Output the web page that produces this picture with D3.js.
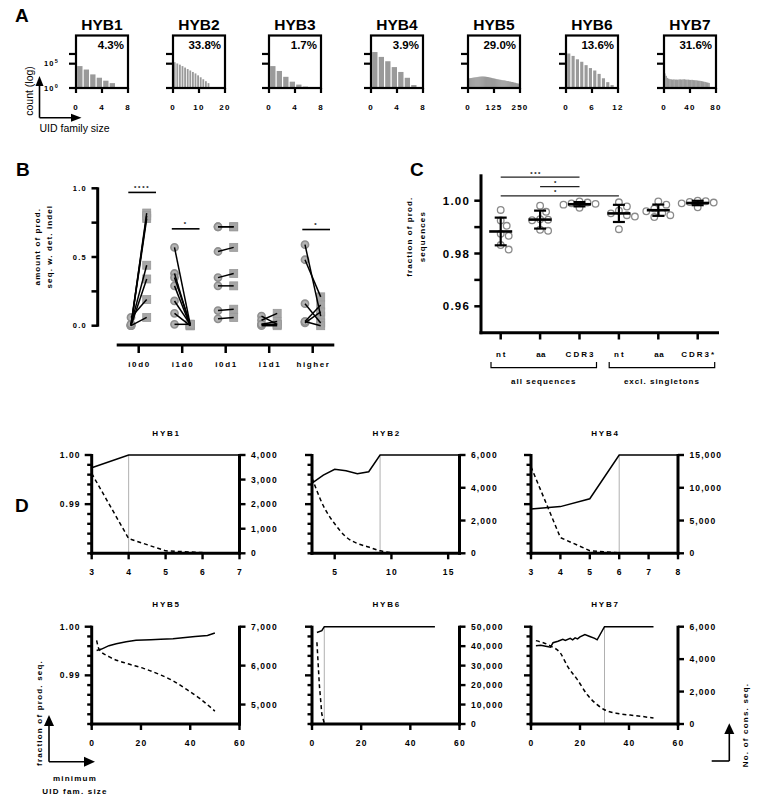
<!DOCTYPE html>
<html><head><meta charset="utf-8">
<script src="https://cdn.jsdelivr.net/npm/d3@7"></script>
<style>body{margin:0;background:#fff} svg{display:block}</style>
</head><body><svg id="chart" width="757" height="800"></svg>
<script>
// ================= DATA =================
// Panel A : UID family size histograms (counts, log axis)
const hybNames = ["HYB1","HYB2","HYB3","HYB4","HYB5","HYB6","HYB7"];
const singletonPct = ["4.3%","33.8%","1.7%","3.9%","29.0%","13.6%","31.6%"];
const famSizeMax = [8,20,8,8,250,12,80];
const famSizeTicks = [[0,4,8],[0,10,20],[0,4,8],[0,4,8],[0,125,250],[0,6,12],[0,40,80]];
const famBinWidth = [1,1,1,1,5,1,2];
const countTicks = [1, 1e5, 1e7];
const countTickLabels = [["10","0"],["10","5"],null];
const famCountsHYB1 = [32000, 6300, 630, 130, 32, 10];
const famCountsHYB2 = [200000, 112000, 63000, 32000, 16000, 7900, 4000, 2000, 1000, 400, 160, 63, 25, 10];
const famCountsHYB3 = [32000, 3200, 200, 20, 5, 2];
const famCountsHYB4 = [25000000, 2500000, 320000, 20000, 2000, 126, 4];
const famCountsHYB5 = [95,105,110,118,130,140,150,160,175,190,205,215,225,232,230,224,215,200,186,172,150,136,120,106,96,86,76,68,62,56,50,47,42,38,37,34,30,27,26,22,21,18,17,15,13,12,10,9,8,7];
const famCountsHYB6 = [12600000, 4000000, 800000, 250000, 50000, 12600, 4000, 800, 100, 16, 4];
const famCountsHYB7 = [1000,320,120,80,65,60,55,58,52,55,50,56,60,54,58,62,55,50,52,48,45,48,42,40,38,35,32,30,26,24,20,18,15,13,11];
const famCounts = [famCountsHYB1,famCountsHYB2,famCountsHYB3,famCountsHYB4,famCountsHYB5,famCountsHYB6,famCountsHYB7];

// Panel B : amount of productive sequences with detected indel (paired)
const indelCats = ["i0d0","i1d0","i0d1","i1d1","higher"];
const indelCircles = [
  [0.00,0.00,0.01,0.00,0.06,0.00,0.01],
  [0.57,0.38,0.35,0.29,0.18,0.09,0.01],
  [0.72,0.54,0.35,0.29,0.11,0.05,0.72],
  [0.07,0.04,0.01,0.00,0.01],
  [0.59,0.48,0.16,0.03,0.02,0.03]
];
const indelSquares = [
  [0.82,0.78,0.44,0.34,0.19,0.06,0.80],
  [0.01,0.00,0.01,0.00,0.01,0.00,0.01],
  [0.72,0.57,0.38,0.29,0.12,0.06,0.72],
  [0.01,0.09,0.03,0.00,0.01],
  [0.07,0.21,0.02,0.15,0.10,0.00]
];
const indelSigCats = ["i0d0","i1d0","higher"];
const indelSigY = [0.97, 0.705, 0.70];
const indelSigLabels = ["****","*","*"];
const indelYTicks = [0,0.25,0.5,0.75,1];
const indelYLabels = [0,0.5,1];

// Panel C : fraction of productive sequences
const prodCats = ["nt","aa","CDR3","nt ","aa ","CDR3*"];
const prodCatLabels = ["nt","aa","CDR3","nt","aa","CDR3*"];
const prodValues = [
  [0.9965,0.9925,0.9905,0.9875,0.9867,0.9832,0.9815],
  [0.9981,0.9958,0.9930,0.9928,0.9926,0.9890,0.9886],
  [0.9997,0.9993,0.9990,0.9988,0.9985,0.9980,0.9973],
  [0.9994,0.9978,0.9962,0.9952,0.9945,0.9940,0.9892],
  [0.9997,0.9985,0.9970,0.9960,0.9953,0.9945,0.9938],
  [1.0000,0.9998,0.9995,0.9993,0.9990,0.9988,0.9975]
];
const prodYTicks = [0.96,0.97,0.98,0.99,1.00];
const prodYLabels = [0.96,0.98,1.00];
const prodGroups = [{label:"all sequences", from:0, to:2},{label:"excl. singletons", from:3, to:5}];
const prodSig = [{a:0,b:2,y:1.0089,label:"***"},{a:1,b:2,y:1.0053,label:"*"},{a:0,b:3,y:1.0018,label:"*"}];

// Panel D : fraction of productive seq. (solid, left) & no. of consensus seq. (dashed, right)
const dNames = ["HYB1","HYB2","HYB4","HYB5","HYB6","HYB7"];
const dXDomains = [[3,7],[3,16],[3,8],[0,60],[0,60],[0,60]];
const dXTicks = [[3,4,5,6,7],[5,10,15],[3,4,5,6,7,8],[0,20,40,60],[0,20,40,60],[0,20,40,60]];
const dRDomains = [[0,4000],[0,6000],[0,15000],[4500,7000],[0,50000],[0,6000]];
const dRTicks = [[0,1000,2000,3000,4000],[0,2000,4000,6000],[0,5000,10000,15000],[5000,6000,7000],[0,10000,20000,30000,40000,50000],[0,2000,4000,6000]];
const dLDomain = [0.98,1.0];
const dLLabels = [0.99,1.00];
const dCutoff = [4,9,6,null,5,30];
const fracX = [
  [3,4,7],
  [3,4,5,6,7,8,9,16],
  [3,4,5,6,8],
  [2,4,7,10,14,18,24,28,33,38,42,47,50],
  [2,4,5,50],
  [2,4,6,8,9,11,13,14,16,17,18,19,20,22,24,26,27,30,50]
];
const fracY = [
  [0.9974,1.0,1.0],
  [0.9943,0.9959,0.9971,0.9968,0.9962,0.9966,1.0,1.0],
  [0.9890,0.9895,0.9911,1.0,1.0],
  [0.9951,0.9954,0.9961,0.9965,0.9969,0.9972,0.9973,0.9974,0.9975,0.9978,0.9980,0.9982,0.9987],
  [0.9988,0.9992,1.0,1.0],
  [0.9961,0.9962,0.9960,0.9958,0.9967,0.9970,0.9974,0.9972,0.9976,0.9973,0.9977,0.9975,0.9979,0.9984,0.9980,0.9976,0.9973,1.0,1.0]
];
const consX = [
  [3,4,5,6],
  [3,4,5,6,7,8,9,10],
  [3,4,5,6],
  [2,3,7,14,21,28,33,38,44,50],
  [2,3,4,5],
  [2,8,12,15,19,23,27,30,36,43,50]
];
const consY = [
  [3250,600,100,30],
  [4600,2900,1800,1000,600,380,150,40],
  [13200,2400,400,50],
  [6650,6420,6230,6060,5930,5760,5610,5410,5150,4830],
  [42000,20000,5000,300],
  [5140,4810,4370,3540,2720,1800,1190,880,630,510,370]
];
const dSmooth = [false,true,false,true,false,true];

// ================= DRAWING =================
const FONT = '"Liberation Sans", Arial, Helvetica, sans-serif';
const svg = d3.select("#chart");
svg.append("rect").attr("width",757).attr("height",800).attr("fill","#fff");

function txt(g, x, y, s, o = {}) {
  return g.append("text").attr("x", x).attr("y", y).text(s)
    .attr("font-family", FONT)
    .attr("font-size", o.size || 8)
    .attr("font-weight", o.weight || "bold")
    .attr("text-anchor", o.anchor || "start")
    .style("letter-spacing", (o.ls || 0) + "px")
    .attr("fill", o.fill || "#000");
}
function line(g, x1, y1, x2, y2, w, c) {
  return g.append("line").attr("x1", x1).attr("y1", y1).attr("x2", x2).attr("y2", y2)
    .attr("stroke", c || "#000").attr("stroke-width", w || 1);
}
function rotText(g, cx, cy, s, o) {
  const t = txt(g, 0, 0, s, Object.assign({anchor: "middle"}, o));
  t.attr("transform", `translate(${cx},${cy}) rotate(-90)`);
  return t;
}

// Panel letters
txt(svg, 15, 22, "A", {size: 19});
txt(svg, 16, 176, "B", {size: 19});
txt(svg, 410, 176, "C", {size: 19});
txt(svg, 15, 512, "D", {size: 19});

// ---------- Panel A ----------
(function () {
  const aLefts = [76, 173, 269, 371, 468, 566, 664];
  const aTop = 35.5, aBot = 88, aW = 52;
  const y = d3.scaleLog().domain([1, Math.pow(10, 10.8)]).range([aBot, aTop]);
  hybNames.forEach((name, i) => {
    const g = svg.append("g");
    const x0 = aLefts[i];
    const x = d3.scaleLinear().domain([0, famSizeMax[i]]).range([x0, x0 + aW]);
    const bw = famBinWidth[i];
    const unit = x(bw) - x(0);
    const gap = bw === 1 ? Math.min(1.2, unit * 0.3) : 0;
    g.selectAll("rect.bar").data(famCounts[i]).join("rect").attr("class", "bar")
      .attr("x", (d, j) => x(j * bw) + gap)
      .attr("width", unit - gap + (gap ? 0 : 0.3))
      .attr("y", d => y(d)).attr("height", d => aBot - y(d))
      .attr("fill", "#9a9a9a");
    g.append("rect").attr("x", x0).attr("y", aTop).attr("width", aW).attr("height", aBot - aTop)
      .attr("fill", "none").attr("stroke", "#000").attr("stroke-width", 2.2);
    countTicks.forEach((t, k) => {
      line(g, x0 - 7, y(t), x0, y(t), 2.2);
      if (i === 0 && countTickLabels[k]) {
        const tt = txt(g, x0 - 17, y(t) + 2.5, countTickLabels[k][0], {size: 7.5, anchor: "end", ls: 1.2});
        tt.append("tspan").attr("dy", -3).attr("font-size", 5.5).text(countTickLabels[k][1]);
      }
    });
    famSizeTicks[i].forEach(t => {
      line(g, x(t), aBot, x(t), aBot + 5, 2.2);
      txt(g, x(t), aBot + 22, t, {size: 8, anchor: "middle", ls: 1.2});
    });
    txt(g, x0 + aW / 2, 30, name, {size: 15.5, anchor: "middle"});
    txt(g, x0 + aW - 4, 48.5, singletonPct[i], {size: 11.5, anchor: "end"});
  });
  // legend arrows
  const g = svg.append("g");
  line(g, 39.5, 117.7, 39.5, 84, 1.6);
  g.append("path").attr("d", "M35.5,86 L39.5,76 L43.5,86 Z").attr("fill", "#000");
  line(g, 39.5, 117.7, 73, 117.7, 1.6);
  g.append("path").attr("d", "M71,113.7 L81.5,117.7 L71,121.7 Z").attr("fill", "#000");
  rotText(g, 32.5, 91, "count (log)", {size: 10.5, weight: "normal"});
  txt(g, 39.5, 131.5, "UID family size", {size: 10.5, weight: "normal"});
})();

// ---------- Panel B ----------
(function () {
  const g = svg.append("g");
  const bx = d3.scalePoint().domain(indelCats).range([138.7, 312.7]);
  const by = d3.scaleLinear().domain([0, 1]).range([325.7, 188.3]);
  line(g, 97.7, by(1) - 1, 97.7, by(0) + 1, 3);
  indelYTicks.forEach(t => line(g, 91.5, by(t), 97.7, by(t), 2.5));
  indelYLabels.forEach(t => txt(g, 87, by(t) + 2.7, d3.format(".1f")(t), {size: 7.5, anchor: "end", ls: 1.3}));
  line(g, 116.7, 345, 334.3, 345, 3);
  indelCats.forEach(c => {
    line(g, bx(c), 345, bx(c), 353, 2.5);
    txt(g, bx(c) + 0.8, 366.5, c, {size: 8, anchor: "middle", ls: 1.6});
  });
  rotText(g, 39.5, 246.7, "amount of prod.", {size: 8, ls: 1.1});
  rotText(g, 52, 246.7, "seq. w. det. indel", {size: 8, ls: 1.1});
  indelCats.forEach((c, i) => {
    const xc = bx(c) - 7.7, xs = bx(c) + 8;
    indelSquares[i].forEach(v => g.append("rect").attr("x", xs - 4).attr("y", by(v) - 4)
      .attr("width", 8).attr("height", 8).attr("fill", "#a6a6a6").attr("stroke", "#999").attr("stroke-width", 0.8));
    indelCircles[i].forEach(v => g.append("circle").attr("cx", xc).attr("cy", by(v)).attr("r", 3.6)
      .attr("fill", "#b4b4b4").attr("stroke", "#8f8f8f").attr("stroke-width", 1.6));
    indelCircles[i].forEach((v, k) => line(g, xc, by(v), xs, by(indelSquares[i][k]), 1.5));
  });
  indelSigCats.forEach((c, k) => {
    const yy = by(indelSigY[k]);
    line(g, bx(c) - 10.4, yy, bx(c) + 17.3, yy, 1.6);
    txt(g, bx(c) + 3.5, yy - 2.5, indelSigLabels[k], {size: 6, anchor: "middle", ls: 1.8});
  });
})();

// ---------- Panel C ----------
(function () {
  const g = svg.append("g");
  const cx = d3.scalePoint().domain(prodCats).range([500.7, 697.7]);
  const cy = d3.scaleLinear().domain([0.95, 1.01]).range([332.7, 174.3]);
  line(g, 481, 174.3, 481, 334.2, 3);
  line(g, 479.5, 332.7, 719, 332.7, 3);
  prodYTicks.forEach(t => line(g, 474.3, cy(t), 481, cy(t), 2.5));
  prodYLabels.forEach(t => txt(g, 470, cy(t) + 4, d3.format(".2f")(t), {size: 11.5, anchor: "end", ls: 1.2}));
  prodCats.forEach((c, i) => {
    line(g, cx(c), 332.7, cx(c), 339.5, 2.5);
    txt(g, cx(c) + 1, 356.5, prodCatLabels[i], {size: 8, anchor: "middle", ls: prodCatLabels[i] === "aa" ? 0.5 : 2});
  });
  prodGroups.forEach(gr => {
    const x1 = cx(prodCats[gr.from]) - 9.7, x2 = cx(prodCats[gr.to]) + 17;
    g.append("path").attr("d", `M${x1},362 V367.7 H${x2} V362`).attr("fill", "none").attr("stroke", "#000").attr("stroke-width", 1.2);
    txt(g, (x1 + x2) / 2, 384, gr.label, {size: 8, anchor: "middle", ls: 1});
  });
  rotText(g, 412, 236.7, "fraction of prod.", {size: 8, ls: 1.1});
  rotText(g, 424.5, 236.7, "sequences", {size: 8, ls: 1.1});
  const r = 3.3;
  prodCats.forEach((c, i) => {
    const vals = prodValues[i];
    const placed = [];
    const order = vals.map((v, k) => k).sort((a, b) => vals[b] - vals[a]);
    order.forEach(k => {
      const yy = cy(vals[k]);
      const cands = [0];
      for (let s = 1; s < 12; s++) cands.push(s * 2, -s * 2);
      let off = 0;
      for (const cnd of cands) {
        if (placed.every(p => Math.hypot(p.x - cnd, p.y - yy) >= 2 * r + 1.2)) { off = cnd; break; }
      }
      placed.push({x: off, y: yy});
      g.append("circle").attr("cx", cx(c) + off).attr("cy", yy).attr("r", r)
        .attr("fill", "#fff").attr("stroke", "#8a8a8a").attr("stroke-width", 1.3);
    });
    const m = d3.mean(vals), sd = d3.deviation(vals);
    line(g, cx(c), cy(m + sd), cx(c), cy(m - sd), 2.2);
    line(g, cx(c) - 6, cy(m + sd), cx(c) + 6, cy(m + sd), 2.2);
    line(g, cx(c) - 6, cy(m - sd), cx(c) + 6, cy(m - sd), 2.2);
    line(g, cx(c) - 11.5, cy(m), cx(c) + 11.5, cy(m), 2.6);
  });
  prodSig.forEach(s => {
    const x1 = cx(prodCats[s.a]), x2 = cx(prodCats[s.b]);
    line(g, x1, cy(s.y), x2, cy(s.y), 1.3, "#222");
    txt(g, (x1 + x2) / 2 - 4, cy(s.y) - 1.5, s.label, {size: 6, anchor: "middle", ls: 1.5});
  });
})();

// ---------- Panel D ----------
(function () {
  const colL = [91.7, 312, 531], colR = [239.5, 459.5, 678];
  const rowT = [455, 626.7], rowB = [553.3, 724];
  const fmt = d3.format(",");
  dNames.forEach((name, i) => {
    const g = svg.append("g");
    const col = i % 3, row = Math.floor(i / 3);
    const L = colL[col], R = colR[col], T = rowT[row], B = rowB[row];
    const x = d3.scaleLinear().domain(dXDomains[i]).range([L, R]);
    const yl = d3.scaleLinear().domain(dLDomain).range([B, T]);
    const yr = d3.scaleLinear().domain(dRDomains[i]).range([B, T]);
    if (dCutoff[i] != null) line(g, x(dCutoff[i]), B, x(dCutoff[i]), T, 1, "#b0b0b0");
    g.append("path").datum(d3.zip(fracX[i], fracY[i]))
      .attr("d", d3.line().x(d => x(d[0])).y(d => yl(d[1])))
      .attr("fill", "none").attr("stroke", "#000").attr("stroke-width", 1.5);
    g.append("path").datum(d3.zip(consX[i], consY[i]))
      .attr("d", d3.line().x(d => x(d[0])).y(d => yr(d[1])).curve(dSmooth[i] ? d3.curveMonotoneX : d3.curveLinear))
      .attr("fill", "none").attr("stroke", "#000").attr("stroke-width", 1.5).attr("stroke-dasharray", "4,3");
    line(g, L, T - 1, L, B + 1.5, 3);
    yl.ticks(10).forEach(t => {
      const major = dLLabels.some(v => Math.abs(v - t) < 1e-9);
      line(g, L - (major ? 7 : 4.5), yl(t), L, yl(t), 2.4);
    });
    if (col === 0) dLLabels.forEach(t => txt(g, L - 11, yl(t) + 3, d3.format(".2f")(t), {size: 8.5, anchor: "end", ls: 1.1}));
    line(g, R, T - 1, R, B + 1.5, 3);
    dRTicks[i].forEach(t => {
      line(g, R, yr(t), R + 6, yr(t), 2.4);
      txt(g, R + 11.5, yr(t) + 3, fmt(t), {size: 8.5, ls: 1.1});
    });
    line(g, L - 1.5, B, R + 1.5, B, 3);
    dXTicks[i].forEach(t => {
      line(g, x(t), B, x(t), B + 6, 2.4);
      txt(g, x(t) + 0.5, B + 22, t, {size: 8.5, anchor: "middle", ls: 1.2});
    });
    txt(g, (L + R) / 2 + 1, T - 19.5, name, {size: 8, anchor: "middle", ls: 1.8});
  });
  const g = svg.append("g");
  line(g, 49, 761.7, 49, 722, 1.6);
  g.append("path").attr("d", "M44,726 L49,715 L54,726 Z").attr("fill", "#000");
  line(g, 49, 761.7, 86, 761.7, 1.6);
  g.append("path").attr("d", "M84,756.7 L95,761.7 L84,766.7 Z").attr("fill", "#000");
  rotText(g, 41.5, 713, "fraction of prod. seq.", {size: 8, ls: 1.2});
  txt(g, 75, 780.5, "minimum", {size: 8, anchor: "middle", ls: 1.2});
  txt(g, 75, 793.5, "UID fam. size", {size: 8, anchor: "middle", ls: 1.2});
  line(g, 711.7, 761, 729.3, 761, 1.6);
  line(g, 729.3, 761, 729.3, 731, 1.6);
  g.append("path").attr("d", "M724.3,734 L729.3,723.3 L734.3,734 Z").attr("fill", "#000");
  rotText(g, 748, 725, "No. of cons. seq.", {size: 8, ls: 1.2});
})();
</script></body></html>
